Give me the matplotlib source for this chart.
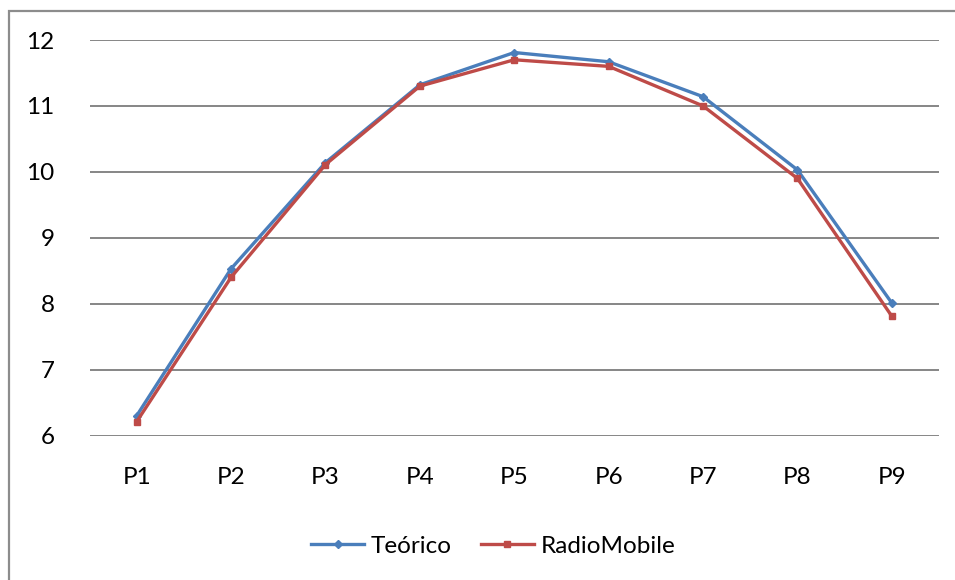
import matplotlib
matplotlib.use("Agg")
import matplotlib.pyplot as plt
from matplotlib.patches import Rectangle

# data
points = ["P1", "P2", "P3", "P4", "P5", "P6", "P7", "P8", "P9"]
teorico = [6.30, 8.53, 10.14, 11.32, 11.81, 11.67, 11.14, 10.03, 8.01]
radiomobile = [6.21, 8.40, 10.11, 11.30, 11.70, 11.60, 11.00, 9.90, 7.81]

plt.rcParams['font.family'] = ['Lato', 'DejaVu Sans']

W, H = 955, 580
fig = plt.figure(figsize=(W / 100, H / 100), dpi=100)
ax = fig.add_axes([89.5 / W, 1 - 435.5 / H, (939 - 89.5) / W, (435.5 - 40) / H])

# outer chart frame (cropped on right and bottom in the reference)
fig.patches.append(Rectangle((9 / W, -0.1), 1.2, 1 - 11 / H + 0.1, transform=fig.transFigure,
                             fill=False, edgecolor='#8c8c8c', linewidth=1.6))

x = list(range(len(points)))
ax.plot(x, teorico, color='#4A7EBB', linewidth=2.4, marker='D', markersize=4.5, label='Teórico')
ax.plot(x, radiomobile, color='#BE4B48', linewidth=2.4, marker='s', markersize=5, label='RadioMobile')

ax.set_xlim(-0.5, len(points) - 0.5)
ax.set_ylim(6, 12)
ax.set_yticks(range(6, 13))
ax.set_xticks(x)
ax.set_xticklabels(points)
ax.grid(axis='y', color='#868686', linewidth=1.4)
ax.set_axisbelow(True)
for s in ax.spines.values():
    s.set_visible(False)
ax.tick_params(axis='both', length=0, labelsize=17.5, colors='black')
ax.tick_params(axis='y', pad=25)
ax.tick_params(axis='x', pad=23)

fig.legend(loc='center', bbox_to_anchor=(493 / W, 1 - 546 / H), ncol=2, frameon=False,
           fontsize=17.5, handlelength=2.2, handletextpad=0.25, columnspacing=1.2)

fig.savefig("out.png", dpi=100)
